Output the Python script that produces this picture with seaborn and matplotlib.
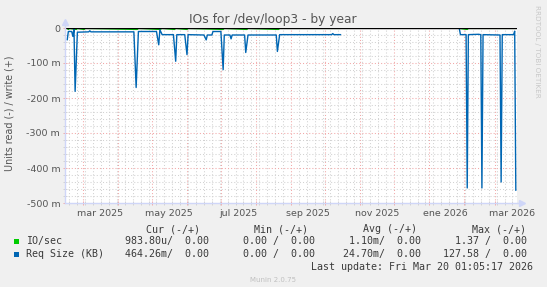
import matplotlib
matplotlib.use("Agg")
import matplotlib.pyplot as plt
import matplotlib.dates as mdates
import matplotlib.transforms as mtransforms
from matplotlib.patches import Rectangle
from matplotlib.ticker import MultipleLocator, FuncFormatter, NullFormatter
import seaborn as sns
import pandas as pd

# ---------------- data (values in milli-units, read values are negative) -------------
req_seg1_dates = ["2025-02-15", "2025-02-16", "2025-02-19", "2025-02-20", "2025-02-21",
                  "2025-02-22", "2025-02-24", "2025-03-06", "2025-03-07", "2025-03-08",
                  "2025-04-15", "2025-04-17", "2025-04-19", "2025-05-05", "2025-05-07",
                  "2025-05-08", "2025-05-10", "2025-05-20", "2025-05-22", "2025-05-23",
                  "2025-05-30", "2025-06-01", "2025-06-02", "2025-06-16", "2025-06-18",
                  "2025-06-19", "2025-06-23", "2025-06-24", "2025-07-01", "2025-07-03",
                  "2025-07-04", "2025-07-09", "2025-07-10", "2025-07-11", "2025-07-22",
                  "2025-07-23", "2025-07-25", "2025-08-19", "2025-08-20", "2025-08-22",
                  "2025-10-07", "2025-10-08", "2025-10-09", "2025-10-15"]
req_seg1_vals = [-34, -10, -10, -24, -3,
                 -181, -12, -11, -8, -11,
                 -11, -170, -10, -10, -48,
                 -5, -19, -19, -95, -19,
                 -19, -76, -19, -20, -34,
                 -20, -20, -10, -10, -119,
                 -20, -20, -31, -20, -20,
                 -70, -20, -20, -67, -19,
                 -19, -16, -19, -19]

req_seg2_dates = ["2026-01-28", "2026-01-29", "2026-02-03", "2026-02-04", "2026-02-05",
                  "2026-02-14", "2026-02-16", "2026-02-17", "2026-02-18", "2026-03-05",
                  "2026-03-06", "2026-03-07", "2026-03-17", "2026-03-18", "2026-03-19"]
req_seg2_vals = [-2, -19, -19, -457, -19,
                 -18, -19, -457, -19, -20,
                 -440, -19, -19, -9, -464]

io_seg1_dates = ["2025-02-15", "2025-02-16", "2025-02-17", "2025-02-23", "2025-02-24",
                 "2025-03-02", "2025-03-03", "2025-04-18", "2025-04-19", "2025-05-08",
                 "2025-05-10", "2025-05-21", "2025-05-22", "2025-06-01", "2025-06-02",
                 "2025-07-03", "2025-07-04", "2025-07-24", "2025-07-25", "2025-08-21",
                 "2025-08-22", "2025-10-15"]
io_seg1_vals = [-1, -4, -1, -4, -1,
                -4, -1, -4, -1, -4,
                -1, -4, -1, -4, -1,
                -4, -1, -4, -1, -4,
                -1, -1]
io_seg2_dates = ["2026-01-28", "2026-02-04", "2026-02-05", "2026-03-19"]
io_seg2_vals = [-1, -4, -1, -1]

x_label_dates = ["2025-03-16", "2025-05-16", "2025-07-16", "2025-09-16",
                 "2025-11-16", "2026-01-16", "2026-03-16"]
x_labels = ["mar 2025", "may 2025", "jul 2025", "sep 2025",
            "nov 2025", "ene 2026", "mar 2026"]

legend_names = ["IO/sec", "Req Size (KB)"]
legend_colors = ["#00CC00", "#0066B3"]
col_headers = ["Cur (-/+)", "Min (-/+)", "Avg (-/+)", "Max (-/+)"]
cur_vals = ["983.80u/  0.00", "464.26m/  0.00"]
min_vals = ["0.00 /  0.00", "0.00 /  0.00"]
avg_vals = ["1.10m/  0.00", "24.70m/  0.00"]
max_vals = ["1.37 /  0.00", "127.58 /  0.00"]

# ---------------- frames ----------------
def frame(dates, vals, seg):
    return pd.DataFrame({"date": pd.to_datetime(dates), "value": vals, "segment": seg})

req_df = pd.concat([frame(req_seg1_dates, req_seg1_vals, 1),
                    frame(req_seg2_dates, req_seg2_vals, 2)], ignore_index=True)
io_df = pd.concat([frame(io_seg1_dates, io_seg1_vals, 1),
                   frame(io_seg2_dates, io_seg2_vals, 2)], ignore_index=True)

# ---------------- figure ----------------
sns.set_theme(style="white")
plt.rcParams["font.family"] = ["DejaVu Sans"]

W, H = 547, 287
fig = plt.figure(figsize=(W / 100, H / 100), dpi=100, facecolor="#F0F0F0")
ax = fig.add_axes([65 / W, (H - 203) / H, 452 / W, 175 / H])
ax.set_facecolor("white")

sns.lineplot(data=io_df, x="date", y="value", units="segment", estimator=None,
             color="#00CC00", linewidth=1.0, ax=ax, legend=False, zorder=3)
sns.lineplot(data=req_df, x="date", y="value", units="segment", estimator=None,
             color="#0066B3", linewidth=1.0, ax=ax, legend=False, zorder=4)
ax.axhline(0, color="black", linewidth=1.0, zorder=5)

ax.set_xlim(pd.Timestamp("2025-02-13 01:05"), pd.Timestamp("2026-03-20 01:05"))
ax.set_ylim(-500, 0)
ax.set_xlabel("")
ax.set_ylabel("")

# grid / ticks
ax.xaxis.set_major_locator(mdates.MonthLocator())
ax.xaxis.set_minor_locator(mdates.WeekdayLocator(byweekday=mdates.MO))
ax.xaxis.set_major_formatter(NullFormatter())
ax.xaxis.set_minor_formatter(NullFormatter())
ax.yaxis.set_major_locator(MultipleLocator(100))
ax.yaxis.set_minor_locator(MultipleLocator(20))
ax.yaxis.set_major_formatter(FuncFormatter(lambda v, p: "0" if abs(v) < 1e-9 else f"{int(round(v))} m"))

ax.grid(which="major", color="#F2A8A8", linestyle=(0, (1, 2)), linewidth=0.75, zorder=1)
ax.grid(which="minor", color="#D2D2D2", linestyle=(0, (1, 2)), linewidth=0.75, zorder=1)
ax.set_axisbelow(True)

ax.tick_params(axis="both", which="major", direction="inout", length=3, width=0.7,
               color="#F2A8A8", labelsize=6.8, labelcolor="#555555", pad=2)
ax.tick_params(axis="both", which="minor", direction="inout", length=3, width=0.7,
               color="#D2D2D2")
ax.tick_params(axis="x", which="both", bottom=True)
ax.tick_params(axis="y", which="both", left=True)

for s in ["top", "right"]:
    ax.spines[s].set_visible(False)
for s in ["left", "bottom"]:
    ax.spines[s].set_color("#CFD6F8")
    ax.spines[s].set_linewidth(1.0)
    ax.spines[s].set_zorder(6)

# axis extensions and arrows
ax.plot([0, 0], [1, 1.03], transform=ax.transAxes, color="#CFD6F8", lw=1.0, clip_on=False)
ax.plot([1, 1.006], [0, 0], transform=ax.transAxes, color="#CFD6F8", lw=1.0, clip_on=False)
ax.plot([0], [1.035], marker="^", markersize=4.5, color="#CFD6F8", transform=ax.transAxes,
        clip_on=False)
ax.plot([1.01], [0], marker=">", markersize=4.5, color="#CFD6F8", transform=ax.transAxes,
        clip_on=False)

# x labels (rrdtool centers month labels mid-interval)
trans = mtransforms.blended_transform_factory(ax.transData, ax.transAxes)
for d, lab in zip(x_label_dates, x_labels):
    ax.text(mdates.date2num(pd.Timestamp(d)), -10 / 175, lab, transform=trans,
            ha="center", va="center", fontsize=6.8, color="#555555")

# texts
fig.text(273 / W, 1 - 19.5 / H, "IOs for /dev/loop3 - by year", ha="center", va="center",
         fontsize=8.8, color="#555555")
fig.text(10 / W, 1 - 113 / H, "Units read (-) / write (+)", rotation=90,
         ha="center", va="center", fontsize=6.9, color="#555555")
fig.text(537 / W, 1 - 5 / H, "RRDTOOL / TOBI OETIKER", rotation=270, ha="center", va="top",
         fontsize=5.2, color="#C8C8C8")

mono = dict(family="DejaVu Sans Mono", fontsize=7.2, color="#3a3a3a", va="center")
hdr_x = [199.6, 308.4, 417.3, 526.2]
col_x = [209.4, 315.0, 421.0, 527.0]
for hx, h in zip(hdr_x, col_headers):
    fig.text(hx / W, 1 - 229 / H, h, ha="right", **mono)
row_y = [241.4, 254.3]
for i, name in enumerate(legend_names):
    y = row_y[i]
    fig.patches.append(Rectangle((14 / W, 1 - (y + 2.5) / H), 5 / W, 5 / H,
                                 transform=fig.transFigure, facecolor=legend_colors[i],
                                 edgecolor="none"))
    fig.text(26 / W, 1 - y / H, name, ha="left", **mono)
    for cx, vals in zip(col_x, [cur_vals, min_vals, avg_vals, max_vals]):
        fig.text(cx / W, 1 - y / H, vals[i], ha="right", **mono)
fig.text(532.8 / W, 1 - 266.9 / H, "Last update: Fri Mar 20 01:05:17 2026", ha="right", **mono)
fig.text(272.9 / W, 1 - 279.8 / H, "Munin 2.0.75", ha="center", va="center",
         fontsize=5, color="#C0C0C0")

fig.savefig("out.png", dpi=100, facecolor=fig.get_facecolor())
